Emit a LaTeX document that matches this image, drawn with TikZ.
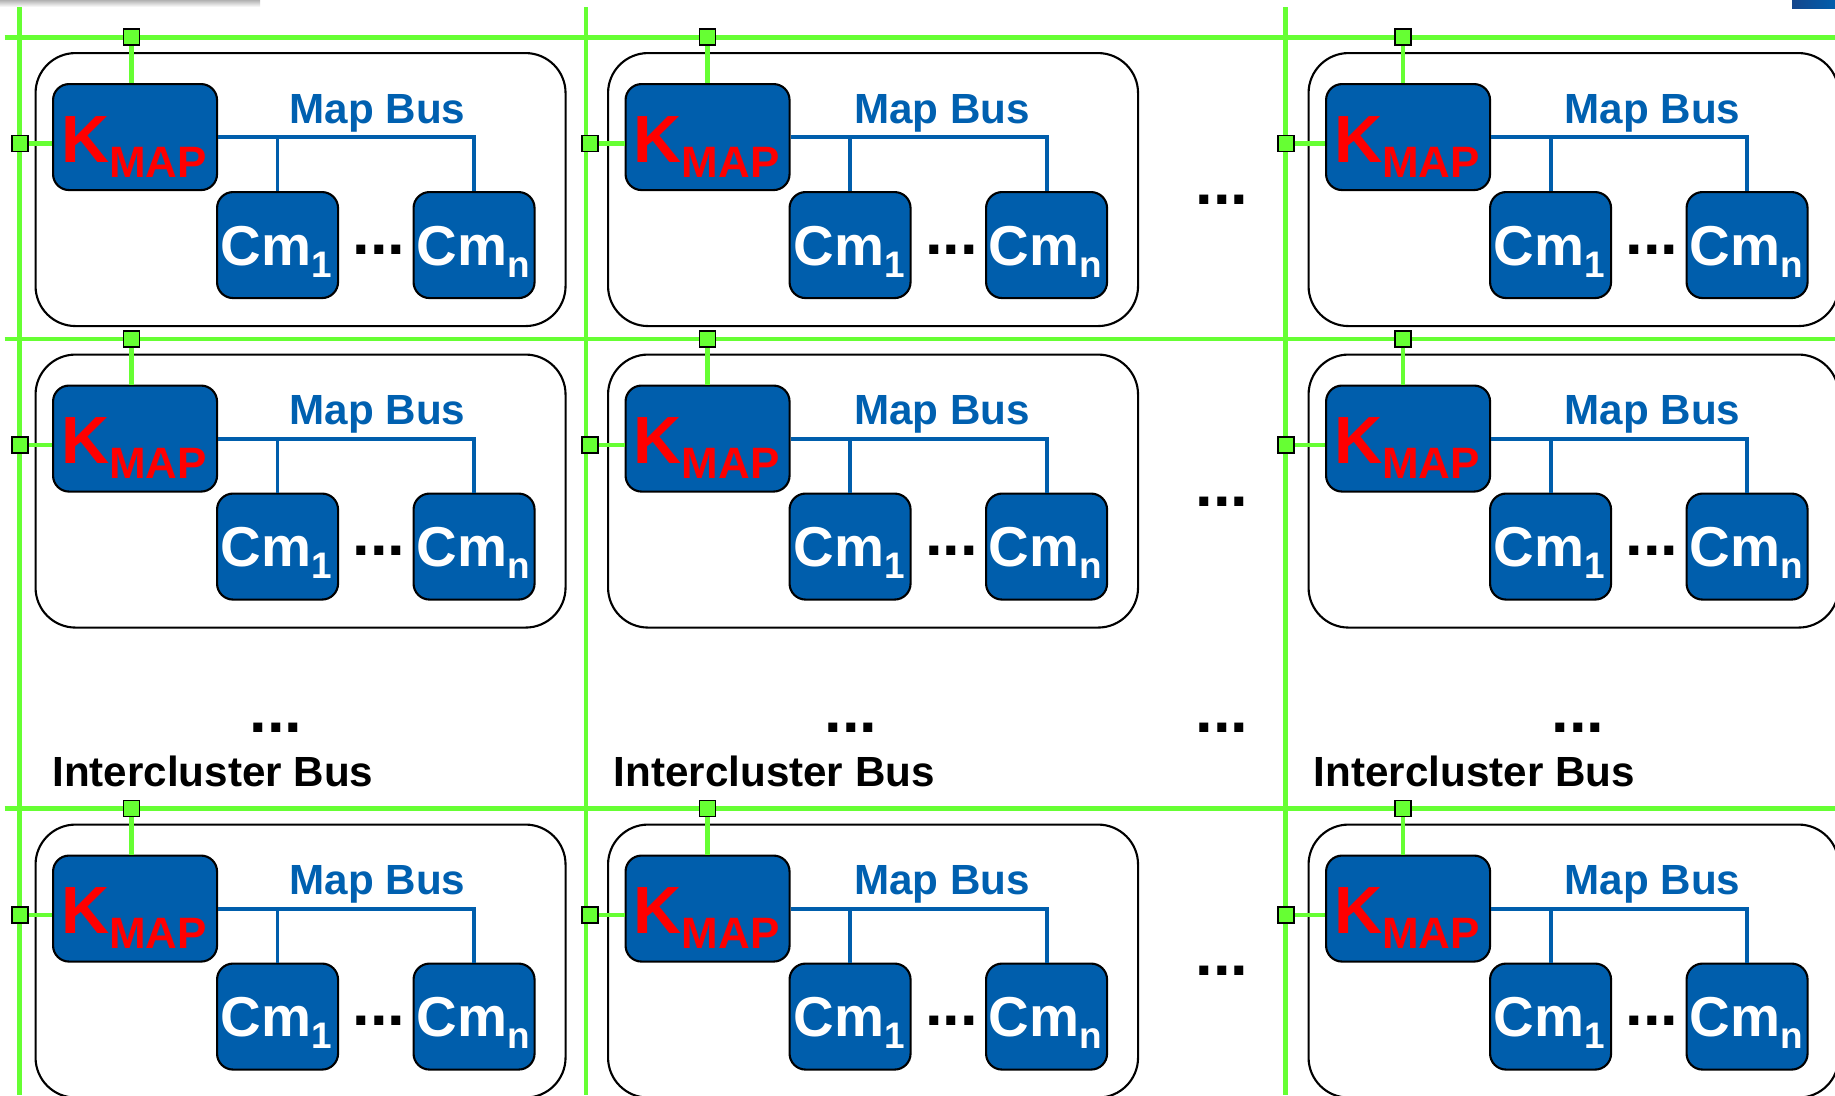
\documentclass[tikz,border=0pt]{standalone}
\usepackage{fontspec}
\setmainfont{Liberation Sans}
\usetikzlibrary{calc}
\definecolor{gbus}{RGB}{102,255,51}
\definecolor{mblue}{RGB}{0,94,172}
\definecolor{tblue}{RGB}{0,96,176}
\definecolor{kred}{RGB}{255,0,0}
\definecolor{cornerblue}{RGB}{20,70,140}
\newcommand{\kmaplabel}{\fontsize{19}{19}\selectfont K\raisebox{-1.5mm}{\fontsize{12.5}{12.5}\selectfont MAP}}
\newcommand{\cmlabel}[1]{\fontsize{16}{16}\selectfont Cm\raisebox{-1.2mm}{\fontsize{10.5}{10.5}\selectfont #1}}
\tikzset{
  gline/.style={draw=gbus, line width=1.3pt},
  cluster/.style={draw=black, line width=0.6pt, rounded corners=4mm, fill=white,
    minimum width=53mm, minimum height=27.3mm, inner sep=0, anchor=north west},
  blk/.style={draw=black, line width=0.6pt, fill=mblue, rounded corners=1.6mm,
    inner sep=0, minimum height=10.6mm, anchor=north west},
  kbox/.style={blk, minimum width=16.4mm},
  cbox/.style={blk, minimum width=12.1mm},
  mapbus/.style={draw=mblue, line width=1.1pt},
  port/.style={draw=black, line width=0.5pt, fill=gbus, minimum size=1.6mm, inner sep=0},
  ktext/.style={text=kred, font=\bfseries, inner sep=0, anchor=base},
  ctext/.style={text=white, font=\bfseries, inner sep=0, anchor=base},
  mbtext/.style={text=tblue, font=\fontsize{12}{12}\selectfont\bfseries, inner sep=0, anchor=base},
  dots/.style={font=\fontsize{18}{18}\selectfont\bfseries, inner sep=0, anchor=base},
  ictext/.style={font=\fontsize{12}{12}\selectfont\bfseries, inner sep=0, anchor=base west}
}
\begin{document}
\begin{tikzpicture}[x=0.1mm, y=-0.1mm]
\useasboundingbox (0,0) rectangle (1835,1095);
\clip (0,0) rectangle (1835,1095);
\fill[white] (0,0) rectangle (1835,1095);
% screenshot artefacts
\shade[top color=black!30, bottom color=white] (0,0) rectangle (260,7);
\shade[left color=cornerblue, right color=mblue] (1792,0) rectangle (1835,8);
% intercluster bus grid
\foreach \gx [count=\i] in {19.5,586,1285.5} {
  \coordinate (vt\i) at (\gx,7);
  \coordinate (vb\i) at (\gx,1095);
  \draw[gline] (vt\i) -- (vb\i);
}
\foreach \gy [count=\i] in {37.3,339,808.5} {
  \coordinate (hl\i) at (4.5,\gy);
  \coordinate (hr\i) at (1835,\gy);
  \draw[gline] (hl\i) -- (hr\i);
}
% clusters
\foreach \c/\cx/\sx/\gx/\mx in {1/0/131.5/20/377.5, 2/572.5/707.5/590/942, 3/1273/1403/1286/1652.5} {
  \foreach \r/\ry/\gy in {1/0/37.3, 2/301.5/339, 3/771.5/808.5} {
    \node[cluster] (cl-\c-\r) at ({\cx+34.5},{\ry+52}) {};
    \node[kbox] (K-\c-\r) at ({\cx+52},{\ry+83}) {};
    \node[cbox] (C1-\c-\r) at ({\cx+216},{\ry+191}) {};
    \node[cbox] (Cn-\c-\r) at ({\cx+412.5},{\ry+191}) {};
    \node[ktext] (Kt-\c-\r) at ({\cx+134},{\ry+162}) {\kmaplabel};
    \node[ctext] (C1t-\c-\r) at ({\cx+276.5},{\ry+265}) {\cmlabel{1}};
    \node[ctext] (Cnt-\c-\r) at ({\cx+473},{\ry+265}) {\cmlabel{n}};
    \node[mbtext] (mb-\c-\r) at (\mx,{\ry+123}) {Map Bus};
    \node[dots] (cd-\c-\r) at ({\cx+379},{\ry+254}) {...};
    \draw[mapbus] (K-\c-\r.east) -| (Cn-\c-\r.north);
    \draw[mapbus] (C1-\c-\r.north) -- (C1-\c-\r.north |- K-\c-\r.east);
    \node[port] (pt-\c-\r) at (\sx,\gy) {};
    \node[port] (pl-\c-\r) at (\gx,{\ry+143.5}) {};
    \draw[gline] (pt-\c-\r.south) -- (pt-\c-\r.south |- K-\c-\r.north);
    \draw[gline] (pl-\c-\r.east) -- (pl-\c-\r.east -| K-\c-\r.west);
  }
}
% ellipses between columns
\foreach \yy [count=\i] in {204.5,506,732.6,975.5} {
  \node[dots] (md\i) at (1222,\yy) {...};
}
\node[dots] (id1) at (276,732.6) {...};
\node[dots] (id2) at (851,732.6) {...};
\node[dots] (id3) at (1578,732.6) {...};
\node[ictext] (ib1) at (51.7,786) {Intercluster Bus};
\node[ictext] (ib2) at (613,786) {Intercluster Bus};
\node[ictext] (ib3) at (1313,786) {Intercluster Bus};
\end{tikzpicture}
\end{document}
